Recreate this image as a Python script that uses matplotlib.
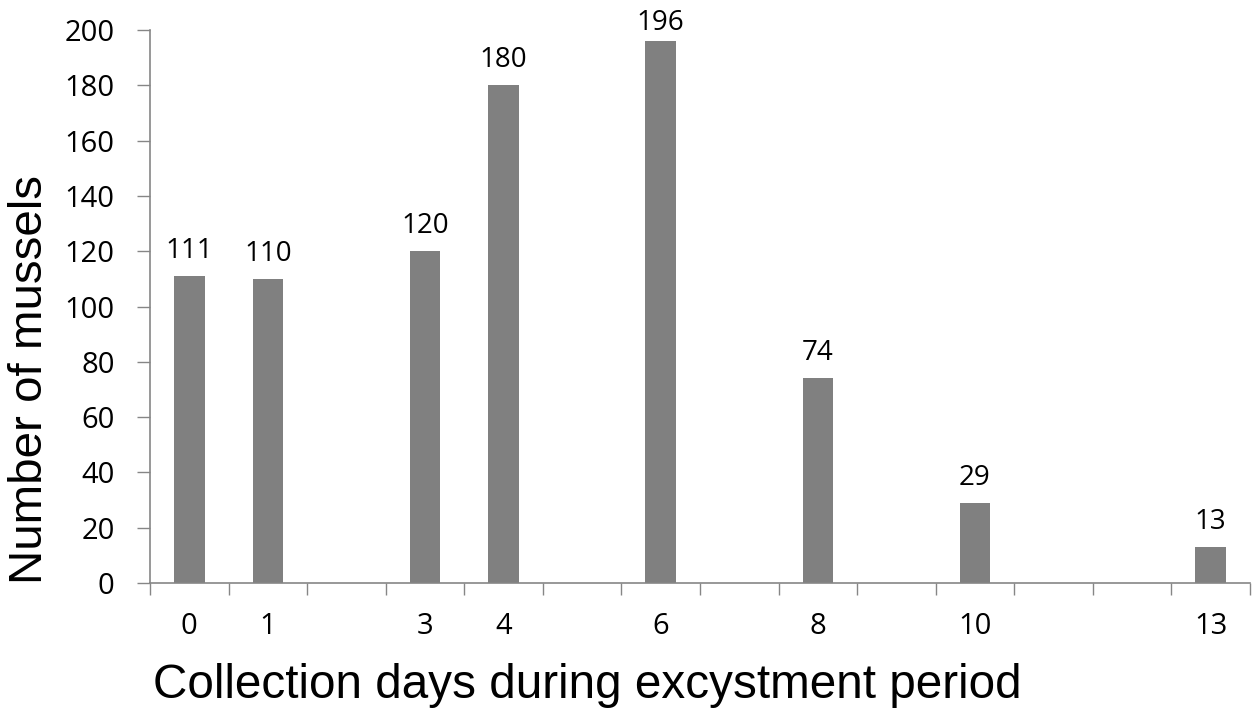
import numpy as np
import matplotlib.pyplot as plt

days = [0, 1, 3, 4, 6, 8, 10, 13]
counts = [111, 110, 120, 180, 196, 74, 29, 13]
slot_labels = ['0', '1', '', '3', '4', '', '6', '', '8', '', '10', '', '', '13']
yticks = list(range(0, 201, 20))

axis_col = '#868686'
bar_col = '#808080'
num_font = ['Open Sans', 'DejaVu Sans']
lab_font = ['Liberation Sans', 'DejaVu Sans']

fig = plt.figure(figsize=(12.53, 7.08), dpi=100)
ax = fig.add_axes([150/1253, 1-583/708, 1100/1253, 553/708])

ax.bar(days, counts, width=0.39, color=bar_col, zorder=2)

n = len(slot_labels)
ax.set_xlim(-0.5, n - 0.5)
ax.set_ylim(0, 200)

# value labels above bars, pushed down if they would run off the top of the figure
ymax = ax.get_ylim()[1]
px_per_unit = 553 / ymax
for d, c in zip(days, counts):
    # axes top is 30px below figure top, keep digits (~20px tall) 10px clear of it
    room = (ymax - c) * px_per_unit + 30 - 10 - 20
    off = min(18, max(room, 0)) * 0.72
    ax.annotate(str(c), xy=(d, c), xytext=(0, off), textcoords='offset points',
                ha='center', va='baseline', fontsize=20, family=num_font,
                annotation_clip=False)

# slot boundaries carry the tick marks, labels sit at slot centres
ax.set_xticks(np.arange(n + 1) - 0.5)
ax.set_xticklabels([])
ax.set_xticks(np.arange(n), minor=True)
ax.set_xticklabels(slot_labels, minor=True, fontsize=21, family=num_font)
ax.tick_params(axis='x', which='major', length=8.6, width=1, color=axis_col, direction='out')
ax.tick_params(axis='x', which='minor', length=0, pad=21)

ax.set_yticks(yticks)
ax.set_yticklabels([str(v) for v in yticks], fontsize=21, family=num_font)
ax.tick_params(axis='y', length=9.4, width=1, color=axis_col, direction='out', pad=16)

for s in ['top', 'right']:
    ax.spines[s].set_visible(False)
for s in ['left', 'bottom']:
    ax.spines[s].set_color(axis_col)
    ax.spines[s].set_linewidth(1.2)

fig.text(587/1253, 1-686/708, 'Collection days during excystment period',
         ha='center', va='center', fontsize=34.3, family=lab_font)
fig.text(30/1253, 1-380/708, 'Number of mussels', rotation=90,
         ha='center', va='center', fontsize=34.2, family=lab_font)

fig.savefig('out.png', dpi=100, facecolor='white')
